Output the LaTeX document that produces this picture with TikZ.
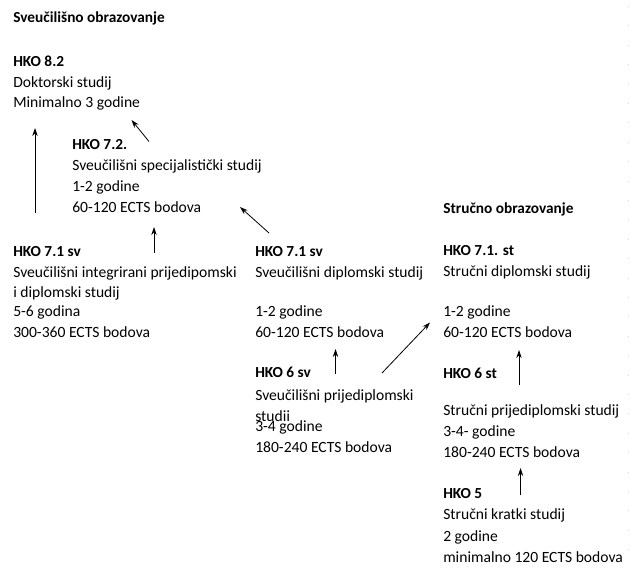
\documentclass[tikz,border=0pt]{standalone}
\usepackage{fontspec}
\setmainfont{Carlito}
\usetikzlibrary{arrows.meta}

\tikzset{
  txt/.style={anchor=base west, inner sep=0pt, font=\fontsize{11.7}{14}\selectfont},
  hd/.style={txt, font=\fontsize{11.5}{14}\selectfont\bfseries},
  up/.style={-{Stealth[length=6pt,width=4pt]}, line width=0.6pt},
}

\begin{document}
\begin{tikzpicture}[x=0.75pt, y=-0.75pt]
  \useasboundingbox (0,0) rectangle (631,567);
  % faint grid marks at the right edge
  \draw[gray!30, line width=0.6pt, dash pattern=on 0.75pt off 13.8pt] (628,6) -- (628,567);

  % university column
  \node[hd]  (uni)   at (13,23)  {Sveučilišno obrazovanje};
  \node[hd]  (h82)   at (13,66)  {HKO 8.2};
  \node[txt] (h82a)  at (13,87)  {Doktorski studij};
  \node[txt] (h82b)  at (13,108) {Minimalno 3 godine};

  \node[hd]  (h72)   at (72,149)   {HKO 7.2.};
  \node[txt] (h72a)  at (72,170.5) {Sveučilišni specijalistički studij};
  \node[txt] (h72b)  at (72,191.5) {1-2 godine};
  \node[txt] (h72c)  at (72,212)   {60-120 ECTS bodova};

  \node[hd]  (h71i)  at (13,256) {HKO 7.1 sv};
  \node[txt] (h71ia) at (13,277) {Sveučilišni integrirani prijedipomski};
  \node[txt] (h71ib) at (13,297) {i diplomski studij};
  \node[txt] (h71ic) at (13,316) {5-6 godina};
  \node[txt] (h71id) at (13,337) {300-360 ECTS bodova};

  \node[hd]  (h71s)  at (255,256) {HKO 7.1 sv};
  \node[txt] (h71sa) at (255,277) {Sveučilišni diplomski studij};
  \node[txt] (h71sb) at (255,316) {1-2 godine};
  \node[txt] (h71sc) at (255,337) {60-120 ECTS bodova};

  \node[hd]  (h6s)   at (255,377) {HKO 6 sv};
  \node[txt] (h6sa)  at (255,400) {Sveučilišni prijediplomski};
  \begin{scope}
    \clip (250,405) rectangle (420,420.5);
    \node[txt] (h6sb) at (255,421.5) {studij};
  \end{scope}
  \node[txt] (h6sc)  at (255,431) {3-4 godine};
  \node[txt] (h6sd)  at (255,452) {180-240 ECTS bodova};

  % professional column
  \node[hd]  (str)   at (443,213) {Stručno obrazovanje};
  \node[hd]  (h71t)  at (443,255) {HKO 7.1. st};
  \node[txt] (h71ta) at (443,276) {Stručni diplomski studij};
  \node[txt] (h71tb) at (443,316) {1-2 godine};
  \node[txt] (h71tc) at (443,337) {60-120 ECTS bodova};

  \node[hd]  (h6t)   at (443,378) {HKO 6 st};
  \node[txt] (h6ta)  at (443,415) {Stručni prijediplomski studij};
  \node[txt] (h6tb)  at (443,436) {3-4- godine};
  \node[txt] (h6tc)  at (443,457) {180-240 ECTS bodova};

  \node[hd]  (h5)    at (443,498) {HKO 5};
  \node[txt] (h5a)   at (443,519) {Stručni kratki studij};
  \node[txt] (h5b)   at (443,541) {2 godine};
  \node[txt] (h5c)   at (443,562) {minimalno 120 ECTS bodova};

  % arrow ends
  \coordinate (a1s) at (35,213);    \coordinate (a1e) at (35,128);
  \coordinate (a2s) at (149,141.5); \coordinate (a2e) at (131.5,120);
  \coordinate (a3s) at (154,253);   \coordinate (a3e) at (154,227);
  \coordinate (a4s) at (269,233);   \coordinate (a4e) at (240,207);
  \coordinate (a5s) at (335.5,374); \coordinate (a5e) at (335.5,349);
  \coordinate (a6s) at (382,373);   \coordinate (a6e) at (430,322.5);
  \coordinate (a7s) at (519,385);   \coordinate (a7e) at (519,350);
  \coordinate (a8s) at (520.5,495); \coordinate (a8e) at (520.5,468);

  \draw[up] (a1s) -- (a1e);
  \draw[up] (a2s) -- (a2e);
  \draw[up] (a3s) -- (a3e);
  \draw[up] (a4s) -- (a4e);
  \draw[up] (a5s) -- (a5e);
  \draw[up] (a6s) -- (a6e);
  \draw[up] (a7s) -- (a7e);
  \draw[up] (a8s) -- (a8e);
\end{tikzpicture}
\end{document}
